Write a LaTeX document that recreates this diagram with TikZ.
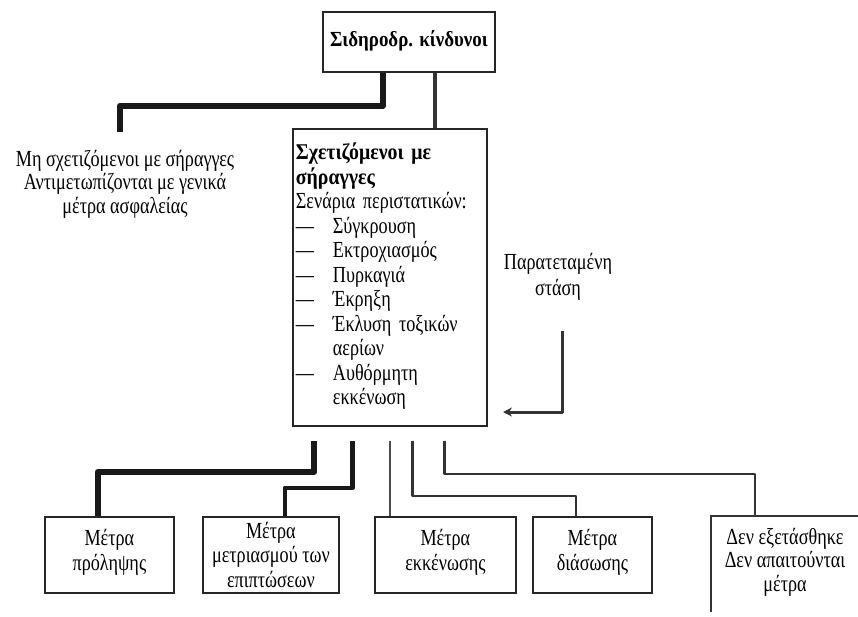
\documentclass[tikz,border=0pt]{standalone}
\usepackage{fontspec}
\setmainfont{Liberation Serif}[FakeStretch=0.79, BoldFeatures={FakeStretch=0.88}]
\usetikzlibrary{arrows.meta}
\begin{document}
\begin{tikzpicture}[x=1pt,y=-1pt,
  box/.style={draw=black!85, line width=1.8pt, inner sep=2pt, align=center,
    font=\fontsize{23}{24.5}\selectfont, anchor=north west},
  plain/.style={inner sep=0pt, align=center, font=\fontsize{23}{23.5}\selectfont},
  heavy/.style={draw=black!90, line width=6pt, line join=round},
  medium/.style={draw=black!90, line width=4.5pt, line join=round},
  slim/.style={draw=black!80, line width=2.5pt, line join=round},
  thin/.style={draw=black!70, line width=2pt, line join=round},
  edge/.style={draw=black!80, line width=1.8pt}
]
\useasboundingbox (0,0) rectangle (858,617);

% top box
\node[box, font=\fontsize{21.5}{24}\selectfont\bfseries, minimum width=172pt, minimum height=60pt, text depth=7pt] (top) at (322,11) {Σιδηροδρ. κίνδυνοι};

% middle box
\node[box, align=left, text width=188pt, inner xsep=3pt, inner ysep=6pt, minimum height=297pt] (mid) at (292,128)
{{\fontsize{22.5}{24.5}\selectfont\bfseries Σχετιζόμενοι με}\\
{\fontsize{22.5}{24.5}\selectfont\bfseries σήραγγες}\\
Σενάρια περιστατικών:\\
\makebox[37pt][l]{—}Σύγκρουση\\
\makebox[37pt][l]{—}Εκτροχιασμός\\
\makebox[37pt][l]{—}Πυρκαγιά\\
\makebox[37pt][l]{—}Έκρηξη\\
\makebox[37pt][l]{—}Έκλυση τοξικών\\
\hspace*{37pt}αερίων\\
\makebox[37pt][l]{—}Αυθόρμητη\\
\hspace*{37pt}εκκένωση\\[-17pt]\mbox{}};

% left text
\node[plain] (nrel) at (125,184) {Μη σχετιζόμενοι με σήραγγες\\Αντιμετωπίζονται με γενικά\\μέτρα ασφαλείας};

% prolonged stop
\node[plain, font=\fontsize{23}{26.5}\selectfont] (para) at (558,277) {Παρατεταμένη\\στάση};

% bottom boxes
\node[box, minimum width=129pt, minimum height=76pt, text depth=10pt] (A) at (44,516) {Μέτρα\\πρόληψης};
\node[box, minimum width=136pt, minimum height=76pt] (B) at (202,516) {Μέτρα\\μετριασμού των\\επιπτώσεων};
\node[box, minimum width=141pt, minimum height=76pt, text depth=10pt] (C) at (374,516) {Μέτρα\\εκκένωσης};
\node[box, minimum width=119pt, minimum height=76pt, text depth=10pt] (D) at (532,516) {Μέτρα\\διάσωσης};
\node[plain] (E) at (785,562) {Δεν εξετάσθηκε\\Δεν απαιτούνται\\μέτρα};
\coordinate (e1) at (711,612);
\coordinate (e2) at (711,516);
\coordinate (e3) at (858,516);
\draw[edge] (e1) -- (e2) -- (e3);

% connectors from top
\coordinate (c1) at (120,132);
\draw[heavy] ([xshift=-26pt]top.south) -- ++(0,33) -| (c1);
\draw[slim, line width=3.5pt] ([xshift=26pt]top.south) -- ([xshift=26pt]top.south |- mid.north);

% prolonged stop arrow
\coordinate (p1) at (562,331);
\coordinate (p2) at (503,412);
\draw[slim, line width=3pt, -{Stealth[length=9pt,width=9pt]}] (p1) |- (p2);

% bottom connectors
\coordinate (b1) at ([shift={(-75.5,14)}]mid.south);
\coordinate (b2) at ([shift={(-37.5,14)}]mid.south);
\coordinate (b3) at ([shift={(0.5,14)}]mid.south);
\coordinate (b4) at ([shift={(22.5,14)}]mid.south);
\coordinate (b5) at ([shift={(54.5,14)}]mid.south);
\coordinate (e4) at (755,516);
\draw[heavy] (b1) -- ++(0,31) -| ([xshift=-11.5pt]A.north);
\draw[medium] (b2) -- ++(0,47) -| ([xshift=14pt]B.north);
\draw[thin] (b3) -- (b3 |- C.north);
\draw[slim] (b4) -- ++(0,55) -| ([xshift=-16.5pt]D.north);
\draw[slim] (b5) -- ++(0,33) -| (e4);
\end{tikzpicture}
\end{document}
